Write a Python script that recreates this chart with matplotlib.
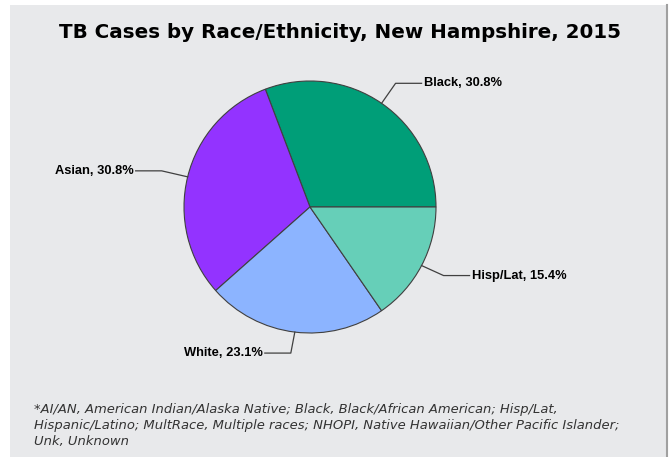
import matplotlib.pyplot as plt
import numpy as np
from matplotlib.patches import Rectangle

# Data
groups = ["Black", "Asian", "White", "Hisp/Lat"]
percents = [30.8, 30.8, 23.1, 15.4]
colors = ["#009E78", "#9333FF", "#8CB4FF", "#66CFB8"]

title = "TB Cases by Race/Ethnicity, New Hampshire, 2015"
footnote = ("*AI/AN, American Indian/Alaska Native; Black, Black/African American; Hisp/Lat,\n"
            "Hispanic/Latino; MultRace, Multiple races; NHOPI, Native Hawaiian/Other Pacific Islander;\n"
            "Unk, Unknown")

W, H = 671, 457
fig = plt.figure(figsize=(W / 100, H / 100), dpi=100)
fig.patch.set_facecolor("white")

# gray panel
fig.patches.append(Rectangle((10 / W, 0), 657 / W, 452 / H, transform=fig.transFigure,
                             facecolor="#E8E9EB", edgecolor="none", zorder=-5))
fig.lines.append(plt.Line2D([667 / W, 667 / W], [0, 452 / H], transform=fig.transFigure,
                            color="#A0A0A0", lw=1.5, zorder=-4))

# axes in pixel coordinates (y up)
ax = fig.add_axes([0, 0, 1, 1], zorder=2)
ax.patch.set_visible(False)

cx, cy, r = 310, H - 207, 126
wedges, _ = ax.pie(percents, colors=colors, startangle=0, counterclock=True,
                   center=(cx, cy), radius=r, frame=True,
                   wedgeprops=dict(edgecolor="#404040", linewidth=0.8))
ax.set_xlim(0, W)
ax.set_ylim(0, H)
ax.set_aspect("equal")
ax.axis("off")

# leader lines: elbow offsets (px) from the edge point, then horizontal run
elbows = [(14, 20), (-26, 6), (-4, -21), (22, -10)]
runs = [26, -26, -26, 26]
for w, g, p, (ex, ey), run in zip(wedges, groups, percents, elbows, runs):
    ang = np.deg2rad((w.theta1 + w.theta2) / 2)
    x0, y0 = cx + r * np.cos(ang), cy + r * np.sin(ang)
    x1, y1 = x0 + ex, y0 + ey
    x2 = x1 + run
    ax.plot([x0, x1, x2], [y0, y1, y1], color="#404040", lw=0.9)
    ax.text(x2 + (2 if run > 0 else -2), y1, f"{g}, {p}%", ha="left" if run > 0 else "right",
            va="center", fontsize=9.3, fontweight="bold", family="Liberation Sans")

fig.text(340 / W, 1 - 33 / H, title, ha="center", va="center", fontsize=14.3,
         fontweight="bold", family="DejaVu Sans")
fig.text(34 / W, 1 - 403 / H, footnote, ha="left", va="top", fontsize=9.45,
         style="italic", color="#333333", family="DejaVu Sans", linespacing=1.32)

fig.savefig("out.png", dpi=100, facecolor=fig.get_facecolor())
